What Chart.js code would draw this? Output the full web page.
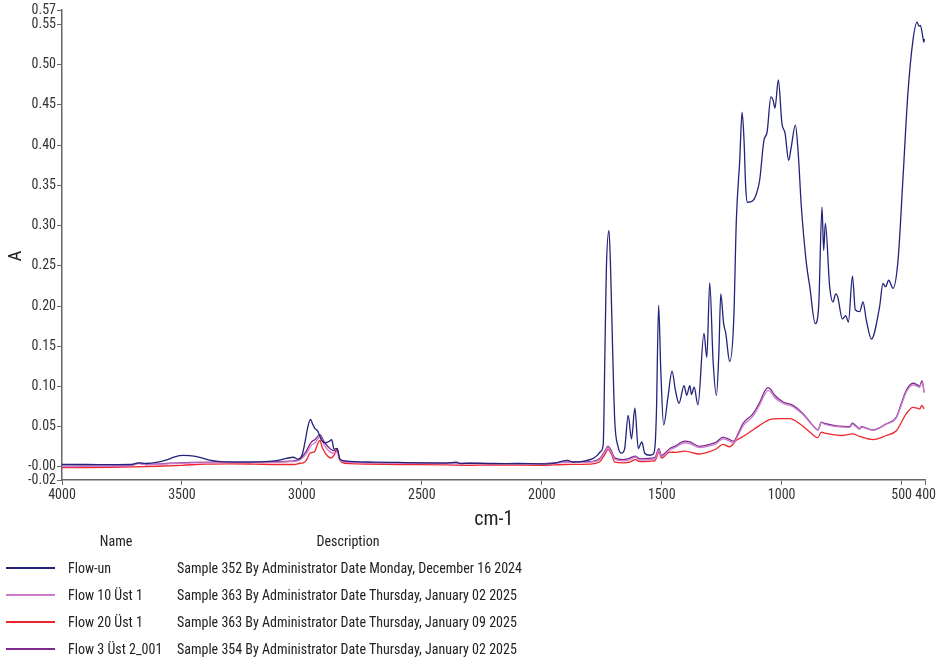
<!DOCTYPE html>
<html>
<head>
<meta charset="utf-8">
<script src="https://cdn.jsdelivr.net/npm/chart.js@4.4.1/dist/chart.umd.min.js"></script>
<style>
  html, body { margin: 0; padding: 0; background: #fff; width: 938px; height: 666px; overflow: hidden; }
  body { font-family: 'Roboto Condensed', 'Liberation Sans', Arial, sans-serif; }
  #wrap { position: absolute; left: 0; top: 0; width: 938px; height: 540px; }
  #legend { position: absolute; left: 0; top: 0; width: 938px; height: 666px; color: #222; font-size: 14px; }
  .t { position: absolute; white-space: nowrap; line-height: 18px; }
  .c { transform: translateX(-50%); }
  .sw { position: absolute; height: 2px; }
</style>
</head>
<body>
<div id="wrap"><canvas id="c" width="938" height="540"></canvas></div>
<div id="legend"></div>
<script>
// ---- Spectra: wavenumber (cm-1) and absorbance ----
const flowUnWn  = [4000,3900,3800,3710,3680,3650,3600,3560,3530,3494,3450,3420,3390,3340,3250,3175,3105,3064,3036,3015,2998,2987,2975,2964,2955,2946,2934,2918,2900,2885,2876,2866,2853,2842,2820,2780,2700,2600,2500,2400,2355,2340,2300,2200,2100,2000,1950,1910,1892,1870,1830,1790,1770,1755,1744,1737,1731,1720,1713,1705,1696,1682,1668,1655,1640,1626,1612,1598,1583,1571,1550,1535,1527,1522,1513,1504,1492,1474,1457,1443,1428,1407,1396,1383,1376,1365,1349,1324,1312,1300,1286,1272,1262,1254,1242,1233,1217,1200,1189,1175,1165,1157,1150,1143,1120,1106,1092,1074,1061,1045,1035,1028,1014,999,986,971,961,943,932,918,897,883,860,846,832,825,818,800,786,775,767,747,733,722,705,693,675,661,647,626,592,578,567,554,536,515,495,474,453,436,428,422,412,407,405];
const flowUnAbs = [0.003,0.003,0.0028,0.003,0.005,0.0042,0.0058,0.009,0.0125,0.0142,0.0135,0.0115,0.0088,0.0066,0.006,0.0062,0.0078,0.0105,0.012,0.0095,0.016,0.031,0.05,0.059,0.053,0.048,0.0445,0.033,0.030,0.032,0.034,0.022,0.023,0.010,0.0075,0.0065,0.006,0.0055,0.005,0.0048,0.0058,0.004,0.0045,0.004,0.0042,0.0038,0.0045,0.0075,0.008,0.006,0.0068,0.01,0.014,0.019,0.028,0.141,0.244,0.294,0.244,0.149,0.058,0.025,0.017,0.022,0.064,0.035,0.073,0.023,0.031,0.017,0.0145,0.016,0.03,0.07,0.201,0.12,0.052,0.087,0.119,0.095,0.079,0.101,0.089,0.101,0.09,0.099,0.077,0.166,0.136,0.229,0.132,0.089,0.141,0.215,0.178,0.166,0.131,0.182,0.307,0.381,0.441,0.406,0.348,0.329,0.331,0.339,0.356,0.406,0.416,0.46,0.455,0.446,0.481,0.427,0.415,0.381,0.396,0.425,0.394,0.323,0.253,0.224,0.178,0.199,0.323,0.269,0.303,0.224,0.205,0.215,0.212,0.184,0.188,0.18,0.237,0.195,0.193,0.205,0.182,0.159,0.199,0.228,0.224,0.232,0.222,0.257,0.356,0.464,0.53,0.553,0.548,0.549,0.535,0.528,0.532];

const flow10Wn  = [4000,3900,3800,3710,3680,3650,3550,3450,3300,3175,3050,3008,2985,2960,2945,2925,2905,2880,2862,2853,2842,2800,2600,2400,2200,2000,1900,1800,1760,1740,1724,1710,1696,1661,1633,1610,1592,1529,1512,1501,1467,1446,1404,1383,1342,1300,1272,1245,1217,1200,1182,1161,1120,1092,1071,1057,1045,1029,994,953,911,870,849,835,821,772,717,705,690,675,668,619,564,522,500,481,453,435,425,416,410,407];
const flow10Abs = [0.0004,0.0006,0.0008,0.0018,0.004,0.0028,0.004,0.005,0.0054,0.0056,0.0065,0.0088,0.015,0.027,0.03,0.037,0.026,0.018,0.017,0.019,0.008,0.0055,0.0048,0.0042,0.004,0.0038,0.0055,0.006,0.009,0.017,0.024,0.018,0.0095,0.0075,0.009,0.012,0.0085,0.0098,0.021,0.0128,0.021,0.024,0.030,0.029,0.024,0.026,0.029,0.035,0.032,0.03,0.039,0.051,0.063,0.077,0.09,0.095,0.093,0.086,0.079,0.075,0.065,0.051,0.0455,0.055,0.053,0.05,0.049,0.053,0.05,0.047,0.049,0.0455,0.053,0.061,0.078,0.093,0.102,0.1,0.099,0.105,0.1,0.092];

const flow20Wn  = [4000,3900,3800,3700,3600,3500,3400,3300,3200,3100,3030,3008,2994,2980,2967,2955,2945,2935,2925,2915,2900,2880,2865,2853,2845,2835,2800,2600,2400,2300,2200,2000,1900,1800,1760,1740,1724,1710,1696,1661,1633,1610,1592,1529,1512,1501,1467,1440,1404,1342,1300,1272,1245,1217,1189,1160,1133,1092,1050,1008,967,925,883,849,835,821,745,705,675,619,564,522,481,453,435,425,416,410,407];
const flow20Abs = [-0.001,-0.0008,-0.0005,0.0,0.0008,0.002,0.0035,0.0038,0.0035,0.003,0.003,0.0045,0.005,0.009,0.017,0.018,0.02,0.028,0.033,0.024,0.016,0.011,0.015,0.0225,0.012,0.006,0.004,0.003,0.0025,0.002,0.0022,0.002,0.003,0.0035,0.006,0.014,0.0214,0.016,0.006,0.005,0.006,0.009,0.0065,0.0075,0.0184,0.011,0.0184,0.018,0.0197,0.016,0.019,0.0226,0.028,0.025,0.033,0.038,0.0433,0.0516,0.0587,0.060,0.060,0.0537,0.0433,0.0363,0.0433,0.042,0.039,0.041,0.038,0.034,0.039,0.045,0.066,0.074,0.073,0.072,0.0765,0.074,0.072];

const flow3Wn   = [4000,3900,3800,3710,3680,3650,3550,3450,3300,3175,3050,3008,2985,2960,2945,2925,2905,2880,2862,2853,2842,2800,2600,2400,2200,2000,1900,1800,1760,1740,1724,1710,1696,1661,1633,1610,1592,1529,1512,1501,1467,1446,1404,1383,1342,1300,1272,1245,1217,1200,1182,1161,1120,1092,1071,1057,1045,1029,994,953,911,870,849,835,821,772,717,705,690,675,668,619,564,522,500,481,453,435,425,416,410,407];
const flow3Abs  = [0.0006,0.0008,0.001,0.002,0.0047,0.003,0.0045,0.0056,0.0058,0.006,0.007,0.0097,0.018,0.031,0.034,0.040,0.03,0.022,0.02,0.021,0.009,0.006,0.005,0.0045,0.0042,0.004,0.006,0.0065,0.01,0.018,0.0255,0.02,0.0114,0.009,0.011,0.0134,0.010,0.0114,0.0226,0.0143,0.0226,0.0255,0.032,0.031,0.0255,0.028,0.031,0.037,0.034,0.032,0.041,0.054,0.066,0.08,0.094,0.0985,0.096,0.089,0.0806,0.0765,0.066,0.0516,0.046,0.0557,0.054,0.051,0.050,0.0545,0.051,0.0475,0.050,0.046,0.0537,0.062,0.08,0.095,0.104,0.102,0.1,0.107,0.101,0.093];

// ---- Series labels and colours ----
const seriesNames  = ['Flow-un', 'Flow 10 Üst 1', 'Flow 20 Üst 1', 'Flow 3 Üst 2_001'];
const seriesDescs  = [
  'Sample 352 By Administrator Date Monday, December 16 2024',
  'Sample 363 By Administrator Date Thursday, January 02 2025',
  'Sample 363 By Administrator Date Thursday, January 09 2025',
  'Sample 354 By Administrator Date Thursday, January 02 2025'
];
const seriesColors = ['#23237a', '#cc7acc', '#f0262c', '#7c2a8c'];

// ---- Axis ticks ----
const xTickValues = [4000, 3500, 3000, 2500, 2000, 1500, 1000, 500, 400];
const yTickValues = [-0.0163, -0.0001, 0.05, 0.10, 0.15, 0.20, 0.25, 0.30, 0.35, 0.40, 0.45, 0.50, 0.55, 0.568];

const FONT = "'Roboto Condensed', 'Liberation Sans', Arial, sans-serif";

function toPoints(wn, abs) { return wn.map((w, i) => ({ x: w, y: abs[i] })); }

const seriesData = [
  toPoints(flowUnWn, flowUnAbs),
  toPoints(flow10Wn, flow10Abs),
  toPoints(flow20Wn, flow20Abs),
  toPoints(flow3Wn, flow3Abs)
];

// y-axis title drawn rotated beside the tick labels
const yTitlePlugin = {
  id: 'yTitle',
  afterDraw(chart) {
    const ctx = chart.ctx;
    ctx.save();
    ctx.translate(16, 256);
    ctx.rotate(-Math.PI / 2);
    ctx.font = '19px ' + FONT;
    ctx.fillStyle = '#222';
    ctx.textAlign = 'center';
    ctx.textBaseline = 'middle';
    ctx.fillText('A', 0, 0);
    ctx.restore();
  }
};

new Chart(document.getElementById('c'), {
  type: 'line',
  data: {
    datasets: seriesData.map((pts, i) => ({
      label: seriesNames[i],
      data: pts,
      borderColor: seriesColors[i],
      borderWidth: 1.3,
      pointRadius: 0,
      fill: false,
      cubicInterpolationMode: 'monotone'
    }))
  },
  options: {
    responsive: false,
    animation: false,
    layout: { padding: { top: 10, right: 12, left: 0, bottom: 0 } },
    plugins: { legend: { display: false }, tooltip: { enabled: false } },
    scales: {
      x: {
        type: 'linear',
        reverse: true,
        min: 400,
        max: 4000,
        afterBuildTicks: s => { s.ticks = xTickValues.map(v => ({ value: v })); },
        afterFit: s => { s.height = 60; },
        ticks: { autoSkip: false, maxRotation: 0, color: '#333', padding: 2,
                 font: { size: 14, family: FONT }, callback: v => String(v) },
        grid: { display: true, drawOnChartArea: false, drawTicks: true, tickLength: 5, color: '#666' },
        border: { display: true, color: '#666', width: 1.5 },
        title: { display: true, text: 'cm-1', color: '#222',
                 font: { size: 20, family: FONT }, padding: { top: 0, bottom: 8 } }
      },
      y: {
        type: 'linear',
        min: -0.0163,
        max: 0.568,
        afterBuildTicks: s => { s.ticks = yTickValues.map(v => ({ value: v })); },
        afterFit: s => { s.width = 62; },
        ticks: { autoSkip: false, color: '#333', padding: 1,
                 font: { size: 14, family: FONT }, callback: v => Number(v).toFixed(2) },
        grid: { display: true, drawOnChartArea: false, drawTicks: true, tickLength: 5, color: '#666' },
        border: { display: true, color: '#666', width: 1.5 }
      }
    }
  },
  plugins: [yTitlePlugin]
});

// ---- Name / Description table under the plot ----
const legend = document.getElementById('legend');
function addText(txt, x, yc, centered) {
  const d = document.createElement('div');
  d.className = 't' + (centered ? ' c' : '');
  d.textContent = txt;
  d.style.left = x + 'px';
  d.style.top = (yc - 9) + 'px';
  legend.appendChild(d);
}
addText('Name', 116, 541, true);
addText('Description', 348, 541, true);
seriesNames.forEach((name, i) => {
  const yc = 568 + i * 27;
  const sw = document.createElement('div');
  sw.className = 'sw';
  sw.style.left = '6px';
  sw.style.width = '49px';
  sw.style.top = (yc - 1) + 'px';
  sw.style.background = seriesColors[i];
  legend.appendChild(sw);
  addText(name, 68, yc, false);
  addText(seriesDescs[i], 177, yc, false);
});
</script>
</body>
</html>
